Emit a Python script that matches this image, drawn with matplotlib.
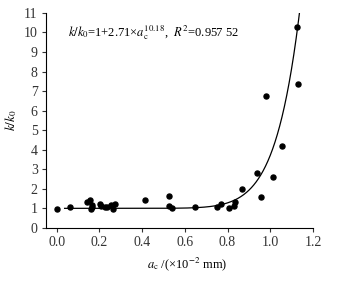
import matplotlib
matplotlib.use("Agg")
import matplotlib.pyplot as plt
import numpy as np

plt.rcParams['font.family'] = ['Liberation Serif', 'DejaVu Serif']
plt.rcParams['mathtext.fontset'] = 'stix'

ac = [0.0, 0.061, 0.142, 0.155, 0.164, 0.167, 0.161, 0.202, 0.206, 0.227, 0.236,
      0.253, 0.266, 0.275, 0.413, 0.525, 0.525, 0.541, 0.647, 0.749, 0.769, 0.808,
      0.830, 0.836, 0.869, 0.938, 0.955, 0.980, 1.014, 1.055, 1.125, 1.130]
kk0 = [0.99, 1.06, 1.30, 1.42, 1.16, 1.06, 0.97, 1.23, 1.13, 1.06, 1.06,
       1.18, 0.97, 1.23, 1.42, 1.64, 1.13, 1.03, 1.06, 1.06, 1.23, 1.03,
       1.13, 1.32, 2.00, 2.80, 1.57, 6.75, 2.62, 4.19, 10.26, 7.38]

fit_a = 2.71
fit_b = 10.18
fit_x_start = 0.037
fit_x_end = 1.138

fig = plt.figure(figsize=(3.54, 2.81), dpi=100)
ax = fig.add_axes([0.130, 0.189, 0.754, 0.765])

xf = np.linspace(fit_x_start, fit_x_end, 400)
yf = 1 + fit_a * xf ** fit_b
ax.plot(xf, yf, color='black', lw=0.9)
ax.scatter(ac, kk0, s=13, color='black', zorder=3)

ax.set_xlim(-0.05, 1.2)
ax.set_ylim(0, 11)
ax.set_xticks(np.arange(0, 1.21, 0.2))
ax.set_xticklabels([f"{v:.1f}" for v in np.arange(0, 1.21, 0.2)])
ax.set_yticks(range(0, 12))
ax.spines['top'].set_visible(False)
ax.spines['right'].set_visible(False)
ax.tick_params(labelsize=10, direction='out', length=3, width=0.8, pad=3,
               colors='#333333', labelcolor='#333333')
for s in ['left', 'bottom']:
    ax.spines[s].set_linewidth(0.8)

ax.set_ylabel(r"$k/k_0$", fontsize=9.5)
ax.yaxis.set_label_coords(-0.10, 0.5)
ax.set_xlabel(r"$a_\mathrm{c}$ /(×10$^{-2}$ mm)", fontsize=9)
ax.xaxis.set_label_coords(0.53, -0.13)
ax.text(0.055, 10, r"$k/k_0$=1+2.71×$a_\mathrm{c}^{10.18}$,  $R^2$=0.957 52",
        fontsize=9, va='center', ha='left')

fig.savefig("out.png", dpi=100)
